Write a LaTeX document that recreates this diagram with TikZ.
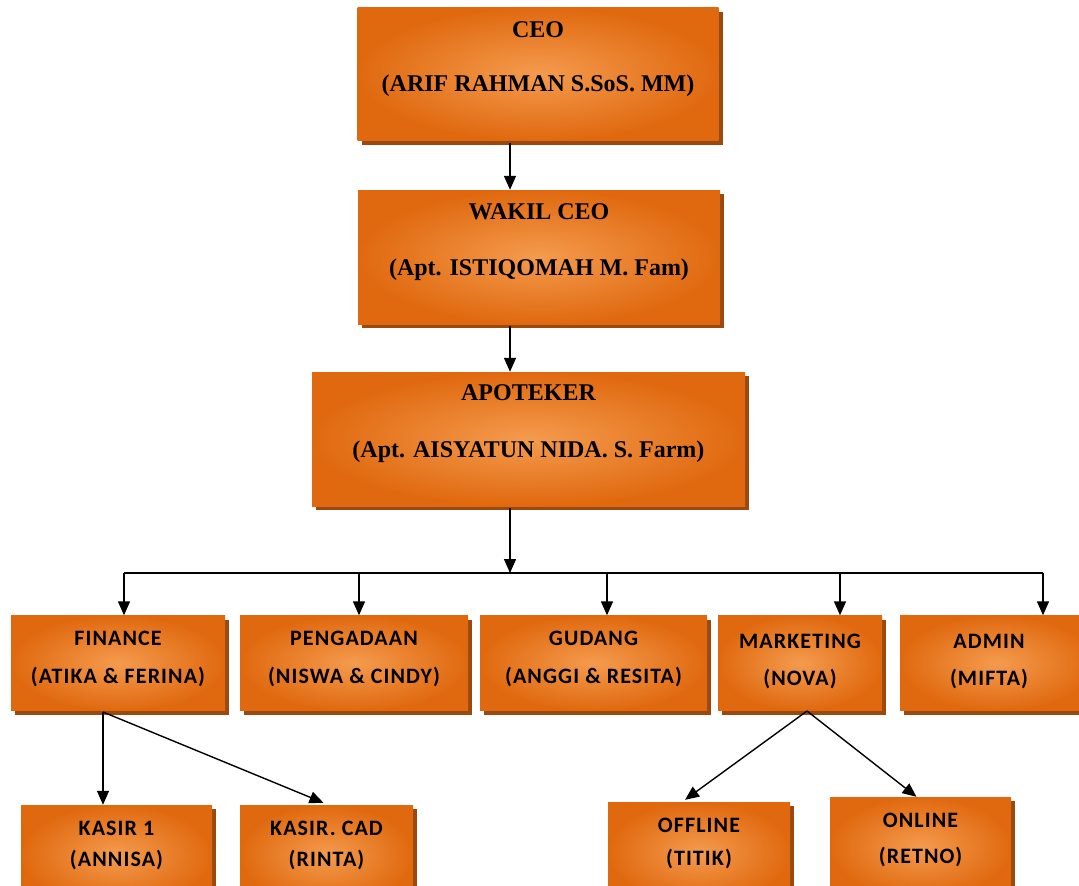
\documentclass[tikz,border=0pt]{standalone}
\usepackage{fontspec}
\setmainfont{Liberation Serif}
\newfontfamily\calib[LetterSpace=5]{Carlito}
\usetikzlibrary{arrows.meta,shadows,calc}
\definecolor{boxout}{HTML}{E0690F}
\definecolor{boxin}{HTML}{F49B4E}
\definecolor{boxshadow}{HTML}{9A4A10}
\begin{document}
\begin{tikzpicture}[x=1pt,y=-1pt,
  orgbox/.style={rectangle, inner sep=0pt, outer color=boxout, inner color=boxin,
    general shadow={fill=boxshadow, shadow xshift=4pt, shadow yshift=-4pt}},
  toptext/.style={inner sep=0pt, font=\bfseries\fontsize{24}{28}\selectfont},
  lowtext/.style={inner sep=0pt, font=\calib\bfseries\fontsize{22}{26}\selectfont},
  arr/.style={line width=1.4pt, -{Triangle[length=14pt,width=12pt]}},
  conn/.style={line width=1.4pt}]
\useasboundingbox (0,0) rectangle (1079,886);
\clip (0,0) rectangle (1079,886);

% top boxes
\node[orgbox, minimum width=361pt, minimum height=133pt] (ceo) at (538,74) {};
\node[toptext] (ceo-t1) at (538,30) {CEO};
\node[toptext] (ceo-t2) at (538,86) {(ARIF RAHMAN S.SoS. MM)};

\node[orgbox, minimum width=362pt, minimum height=134pt] (wakil) at (539,257) {};
\node[toptext] (wakil-t1) at (539,212) {WAKIL CEO};
\node[toptext] (wakil-t2) at (539,270) {(Apt. ISTIQOMAH M. Fam)};

\node[orgbox, minimum width=433pt, minimum height=134pt] (apo) at (528.5,439) {};
\node[toptext] (apo-t1) at (528.5,393) {APOTEKER};
\node[toptext] (apo-t2) at (528.5,452) {(Apt. AISYATUN NIDA. S. Farm)};

% second row
\node[orgbox, minimum width=214pt, minimum height=95pt] (fin) at (118,663) {};
\node[lowtext] (fin-t1) at (118,638) {FINANCE};
\node[lowtext] (fin-t2) at (118,677) {(ATIKA \& FERINA)};

\node[orgbox, minimum width=228pt, minimum height=95pt] (pen) at (354,663) {};
\node[lowtext] (pen-t1) at (354,638) {PENGADAAN};
\node[lowtext] (pen-t2) at (354,677) {(NISWA \& CINDY)};

\node[orgbox, minimum width=227pt, minimum height=95pt] (gud) at (593.5,663) {};
\node[lowtext] (gud-t1) at (593.5,638) {GUDANG};
\node[lowtext] (gud-t2) at (593.5,677) {(ANGGI \& RESITA)};

\node[orgbox, minimum width=164pt, minimum height=95pt] (mkt) at (800,663) {};
\node[lowtext] (mkt-t1) at (800,641) {MARKETING};
\node[lowtext] (mkt-t2) at (800,679) {(NOVA)};

\node[orgbox, minimum width=195pt, minimum height=95pt] (adm) at (997.5,663) {};
\node[lowtext] (adm-t1) at (989,641) {ADMIN};
\node[lowtext] (adm-t2) at (989,679) {(MIFTA)};

% third row
\node[orgbox, minimum width=191pt, minimum height=100pt] (kas1) at (116.5,855) {};
\node[lowtext] (kas1-t1) at (116.5,828) {KASIR 1};
\node[lowtext] (kas1-t2) at (116.5,860) {(ANNISA)};

\node[orgbox, minimum width=173pt, minimum height=100pt] (kcad) at (326.5,855) {};
\node[lowtext] (kcad-t1) at (326.5,828) {KASIR. CAD};
\node[lowtext] (kcad-t2) at (326.5,860) {(RINTA)};

\node[orgbox, minimum width=182pt, minimum height=100pt] (off) at (699,852) {};
\node[lowtext] (off-t1) at (699,825) {OFFLINE};
\node[lowtext] (off-t2) at (699,859) {(TITIK)};

\node[orgbox, minimum width=181pt, minimum height=100pt] (onl) at (920.5,847) {};
\node[lowtext] (onl-t1) at (920.5,820) {ONLINE};
\node[lowtext] (onl-t2) at (920.5,857) {(RETNO)};

% connectors
\coordinate (spine) at (510,0);
\coordinate (bus) at (510,573);
\coordinate (b1) at (124,573);
\coordinate (b2) at (359,573);
\coordinate (b3) at (607,573);
\coordinate (b4) at (840,573);
\coordinate (b5) at (1043,573);
\coordinate (finout) at (103,712);
\coordinate (mkout) at (807,711);

\draw[arr] ([yshift=-2pt]ceo.south -| spine) -- (wakil.north -| spine);
\draw[arr] ([yshift=-2pt]wakil.south -| spine) -- (apo.north -| spine);
\draw[arr] ([yshift=-2pt]apo.south -| spine) -- (bus);
\draw[conn] (b1) -- (b5);
\draw[arr] (b1) -- (b1 |- fin.north);
\draw[arr] (b2) -- (b2 |- pen.north);
\draw[arr] (b3) -- (b3 |- gud.north);
\draw[arr] (b4) -- (b4 |- mkt.north);
\draw[arr] (b5) -- (b5 |- adm.north);

\draw[arr] (finout) -- (finout |- kas1.north);
\draw[arr] (finout) -- ([xshift=-3pt,yshift=2pt]kcad.north);
\draw[arr] (mkout) -- ([xshift=-14pt,yshift=2pt]off.north);
\draw[arr] (mkout) -- ([xshift=-4pt]onl.north);
\end{tikzpicture}
\end{document}
